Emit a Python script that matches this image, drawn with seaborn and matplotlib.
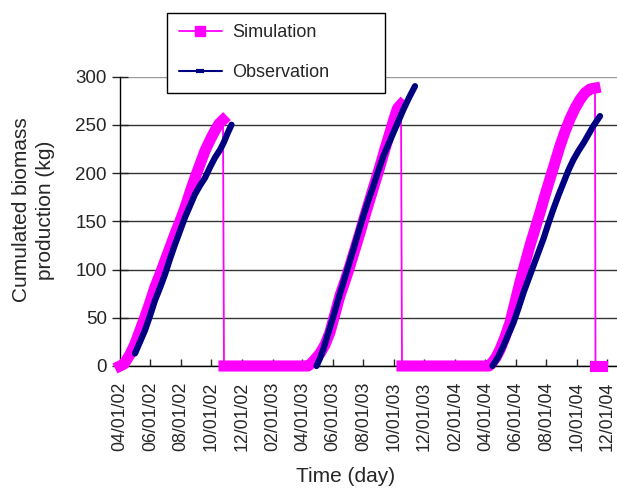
import numpy as np
import pandas as pd
import seaborn as sns
import matplotlib
matplotlib.use('Agg')
import matplotlib.pyplot as plt
import matplotlib.dates as mdates
from matplotlib.lines import Line2D

sns.set_style('white')
plt.rcParams['font.family'] = ['Liberation Sans', 'DejaVu Sans']

start = pd.Timestamp('2002-04-01')
end = start + pd.Timedelta(days=994)

# simulation, days after 04/01/02 and kg
sim1_day = [0, 8, 20, 30, 40, 50, 60, 70, 80, 90, 100, 110, 120, 130, 140, 150, 160, 170, 180, 190, 198, 206]
sim1_val = [0, 2, 12, 23, 37, 51, 66, 82, 95, 109, 123, 137, 150, 164, 180, 195, 209, 223, 234, 244, 251, 255]
sim2_day = [208, 300, 376, 383, 390, 400, 410, 420, 430, 440, 450, 460, 470, 480, 490, 500, 510, 520, 530, 540, 548, 555, 562]
sim2_val = [0, 0, 0, 3, 7, 13, 22, 35, 54, 73, 88, 104, 121, 138, 156, 173, 190, 207, 225, 242, 256, 267, 271]
sim3_day = [564, 700, 738, 745, 752, 760, 770, 780, 790, 800, 810, 820, 830, 840, 850, 860, 870, 880, 890, 900, 910, 920, 930, 940, 950]
sim3_val = [0, 0, 0, 4, 9, 17, 30, 45, 66, 87, 106, 125, 142, 159, 177, 194, 211, 228, 243, 256, 267, 276, 283, 287, 288]
sim4_day = [951, 964]
sim4_val = [0, 0]

# observation
obs1_day = [30, 40, 50, 60, 70, 80, 90, 100, 110, 120, 130, 140, 150, 160, 170, 180, 190, 200, 207, 215, 223]
obs1_val = [13, 25, 37, 52, 68, 81, 95, 111, 126, 140, 154, 166, 178, 187, 195, 206, 216, 224, 231, 241, 250]
obs2_day = [393, 400, 407, 417, 427, 437, 447, 457, 467, 477, 487, 497, 507, 517, 527, 537, 547, 557, 567, 578, 590]
obs2_val = [0, 8, 18, 35, 52, 70, 87, 104, 121, 139, 156, 172, 187, 203, 218, 230, 242, 254, 266, 278, 290]
obs3_day = [745, 757, 767, 777, 787, 797, 807, 817, 827, 837, 847, 857, 867, 877, 887, 897, 907, 917, 927, 937, 947, 960]
obs3_val = [0, 10, 21, 33, 45, 60, 76, 90, 104, 118, 132, 148, 163, 177, 190, 203, 214, 223, 231, 240, 249, 259]

sim_color = '#FF00FF'
obs_color = '#000080'


def seg(days, vals):
    return pd.DataFrame({'date': start + pd.to_timedelta(days, unit='D'), 'kg': vals})


sim_segs = [seg(sim1_day, sim1_val), seg(sim2_day, sim2_val),
            seg(sim3_day, sim3_val), seg(sim4_day, sim4_val)]
obs_segs = [seg(obs1_day, obs1_val), seg(obs2_day, obs2_val), seg(obs3_day, obs3_val)]

fig = plt.figure(figsize=(6.17, 4.88), dpi=100)
ax = fig.add_axes([120 / 617, 0.25, 497 / 617, 0.5932])

# thick bands standing in for the dense daily markers
for d in sim_segs:
    sns.lineplot(data=d, x='date', y='kg', ax=ax, color=sim_color, linewidth=8,
                 estimator=None, solid_capstyle='projecting', solid_joinstyle='round',
                 clip_on=False, zorder=3)
# thin line joining everything (gives the vertical drops)
sns.lineplot(data=pd.concat(sim_segs), x='date', y='kg', ax=ax, color=sim_color,
             linewidth=1.3, estimator=None, zorder=3)
for d in obs_segs:
    sns.lineplot(data=d, x='date', y='kg', ax=ax, color=obs_color, linewidth=4.5,
                 estimator=None, solid_capstyle='round', solid_joinstyle='round',
                 clip_on=False, zorder=4)

ax.set_xlim(start, end)
ax.set_ylim(0, 300)
ax.set_yticks(np.arange(0, 301, 50))
ax.xaxis.set_major_locator(mdates.MonthLocator(bymonth=[2, 4, 6, 8, 10, 12]))
ax.xaxis.set_major_formatter(mdates.DateFormatter('%m/%d/%y'))
plt.setp(ax.get_xticklabels(), rotation=90)

ax.grid(axis='y', color='#333333', linewidth=1.0)
ax.get_ygridlines()[-1].set_color('#9a9a9a')
ax.grid(axis='x', visible=False)
for s in ['top', 'right']:
    ax.spines[s].set_visible(False)
for s in ['left', 'bottom']:
    ax.spines[s].set_color('black')
    ax.spines[s].set_linewidth(1.0)

ax.tick_params(axis='y', direction='inout', length=11, width=1, pad=4, labelsize=13.5, left=True)
ax.tick_params(axis='x', direction='in', length=5, width=1, pad=11, labelsize=12.8, bottom=True)

ax.set_xlabel('Time (day)', fontsize=15)
ax.xaxis.label.set_va('center')
ax.xaxis.set_label_coords(0.453, -0.383)
ax.set_ylabel('Cumulated biomass\nproduction (kg)', fontsize=15, linespacing=1.33)
ax.yaxis.label.set_va('center')
ax.yaxis.set_label_coords(-0.1736, 0.539)

handles = [Line2D([], [], color=sim_color, lw=1.3, marker='s', ms=7),
           Line2D([], [], color=obs_color, lw=1.5, marker='_', ms=6, mew=3)]
leg = fig.legend(handles, ['Simulation', 'Observation'], loc='upper left',
                 bbox_to_anchor=(167 / 617, 0.812, 218 / 617, 0.162), mode='expand',
                 borderaxespad=0, fontsize=13, frameon=True, fancybox=False,
                 handlelength=2.4, handletextpad=0.55, labelspacing=1.25, borderpad=0.65)
leg.get_frame().set_edgecolor('black')
leg.get_frame().set_linewidth(1.0)
leg.get_frame().set_alpha(1)

fig.savefig('out.png', dpi=100)
